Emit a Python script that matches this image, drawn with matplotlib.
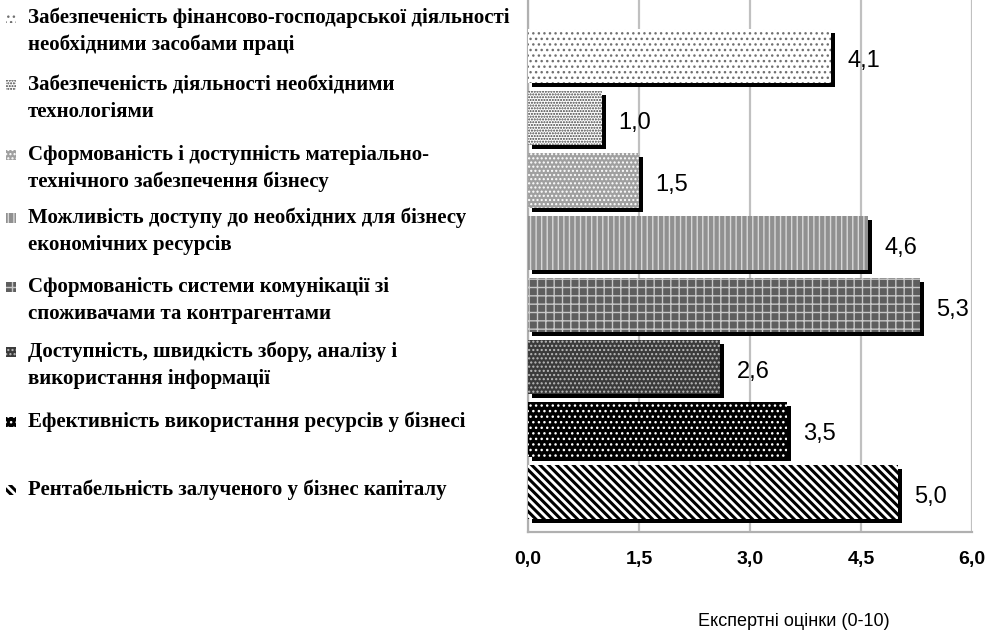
import matplotlib
matplotlib.use("Agg")
import matplotlib.pyplot as plt
from matplotlib.patches import Rectangle
from matplotlib.transforms import offset_copy

categories = [
    "Забезпеченість фінансово-господарської діяльності\nнеобхідними засобами праці",
    "Забезпеченість діяльності необхідними\nтехнологіями",
    "Сформованість і доступність матеріально-\nтехнічного забезпечення бізнесу",
    "Можливість доступу до необхідних для бізнесу\nекономічних ресурсів",
    "Сформованість системи комунікації зі\nспоживачами та контрагентами",
    "Доступність, швидкість збору, аналізу і\nвикористання інформації",
    "Ефективність використання ресурсів у бізнесі",
    "Рентабельність залученого у бізнес капіталу",
]
values = [4.1, 1.0, 1.5, 4.6, 5.3, 2.6, 3.5, 5.0]
value_labels = ["4,1", "1,0", "1,5", "4,6", "5,3", "2,6", "3,5", "5,0"]
xticks = [0.0, 1.5, 3.0, 4.5, 6.0]
xtick_labels = ["0,0", "1,5", "3,0", "4,5", "6,0"]
xlabel = "Експертні оцінки (0-10)"

faces = ["white", "white", "#a0a0a0", "#909090", "#5e5e5e", "#3a3a3a", "black", "white"]
hatch_cols = ["#707070", "#404040", "white", "#d8d8d8", "#c8c8c8", "#bbbbbb", "white", "black"]
hatches = ["...", "......", "....", "|||", "++", "....", "...", "\\\\\\\\"]
hatch_lw = [1.0, 1.0, 1.0, 1.0, 1.0, 1.0, 1.0, 2.2]

W, H = 989, 633
fig = plt.figure(figsize=(W / 100, H / 100), dpi=100)
ax = fig.add_axes([528 / W, 1 - 531.5 / H, 444 / W, 531.5 / H])

pos = list(range(len(values)))
shadow_tr = offset_copy(ax.transData, fig=fig, x=4, y=-4, units="dots")
ax.barh(pos, values, height=0.87, color="black", transform=shadow_tr, zorder=2)
for i, v in enumerate(values):
    with plt.rc_context({"hatch.linewidth": hatch_lw[i]}):
        ax.barh(i, v, height=0.87, facecolor=faces[i], edgecolor=hatch_cols[i],
                hatch=hatches[i], linewidth=0, zorder=3)
    ax.text(v + 0.22, i + 0.08, value_labels[i], va="center", ha="left",
            fontsize=17, family="Liberation Sans", color="black", zorder=4)

ax.set_xlim(0, 6)
ax.set_ylim(7.64, -0.9)
ax.set_xticks(xticks)
ax.set_xticklabels(xtick_labels, fontsize=14, fontweight="bold", family="Liberation Sans")
ax.tick_params(axis="x", length=0, pad=14)
ax.set_yticks([])
ax.grid(axis="x", color="#c0c0c0", linewidth=1.6, zorder=0)
ax.set_axisbelow(True)
for s in ["top", "right"]:
    ax.spines[s].set_visible(False)
for s in ["left", "bottom"]:
    ax.spines[s].set_color("#b0b0b0")
    ax.spines[s].set_linewidth(1.6)

fig.text(794 / W, 1 - 622 / H, xlabel, ha="center", va="center",
         fontsize=13, family="Liberation Sans")

# legend on the left
legend_y = [18, 85, 155, 218, 287, 352, 422, 490]
for i, cat in enumerate(categories):
    for k, line in enumerate(cat.split("\n")):
        fig.text(28 / W, 1 - (legend_y[i] + 27 * k) / H, line, ha="left", va="center",
                 fontsize=15, family="Liberation Serif", fontweight="bold")
    with plt.rc_context({"hatch.linewidth": hatch_lw[i]}):
        r = Rectangle((6 / W, 1 - (legend_y[i] + 5) / H), 10 / W, 10 / H,
                      transform=fig.transFigure, facecolor=faces[i],
                      edgecolor=hatch_cols[i], hatch=hatches[i], linewidth=0)
    fig.patches.append(r)

fig.savefig("out.png", dpi=100)
